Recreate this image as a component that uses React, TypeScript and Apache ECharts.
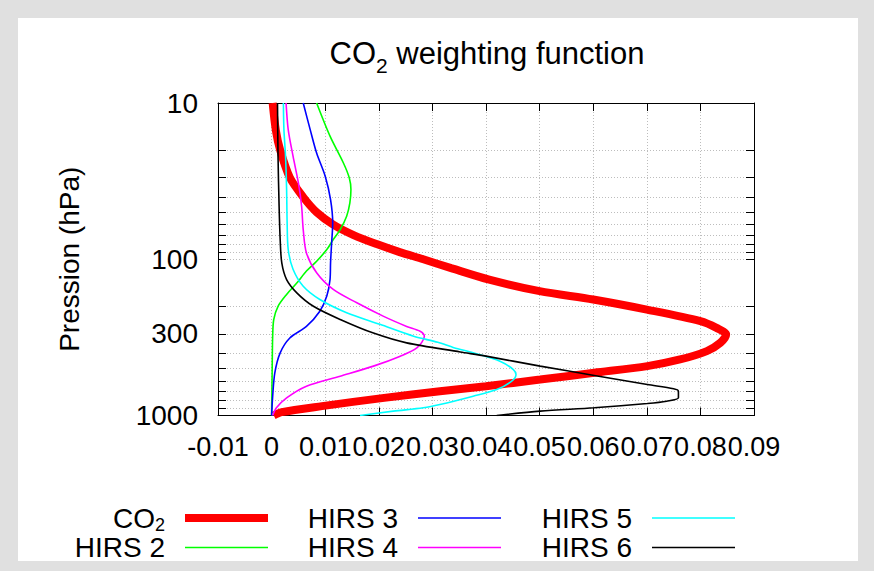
import React, { useEffect, useRef } from 'react';
import * as echarts from 'echarts';

const FONT = '"Liberation Sans", Arial, Helvetica, sans-serif';

// Axis settings
const xMin = -0.01;
const xMax = 0.09;
const xStep = 0.01;
const yLabelValues = [10, 100, 300, 1000];
const yTickValues = [10, 20, 30, 40, 50, 60, 70, 80, 90, 100, 200, 300, 400, 500, 600, 700, 800, 900, 1000];

// Series: pressure (hPa) and weighting values
const co2Pressure = [10, 15, 20, 30, 40, 50, 60, 70, 80, 90, 100, 114, 135, 160, 181, 210, 249, 275, 303, 343, 387, 438, 483, 533, 589, 649, 699, 771, 871, 952, 1000];
const co2Weight = [0.0002, 0.0008, 0.0016, 0.0034, 0.0059, 0.0084, 0.0115, 0.0153, 0.0196, 0.0239, 0.0283, 0.0335, 0.0406, 0.05, 0.06, 0.07, 0.08, 0.083, 0.0848, 0.0837, 0.0812, 0.0762, 0.0701, 0.0602, 0.0501, 0.04, 0.0314, 0.021, 0.0094, 0.0019, 0.0004];

const hirs2Pressure = [10, 16.3, 24.2, 30.2, 35.8, 43.6, 53.1, 64.6, 74.8, 86.7, 103, 119, 142, 168, 200, 243, 311, 533, 1000];
const hirs2Weight = [0.0084, 0.0109, 0.0134, 0.0145, 0.0148, 0.0146, 0.014, 0.0128, 0.0115, 0.0103, 0.0084, 0.0065, 0.0047, 0.0028, 0.0012, 0.0004, 0.0002, 0.0001, 0.0];

const hirs3Pressure = [10, 14.8, 20.9, 29.4, 41.5, 58.6, 78.7, 105, 135, 172, 215, 269, 319, 397, 533, 751, 1000];
const hirs3Weight = [0.0059, 0.0072, 0.0084, 0.01, 0.011, 0.0114, 0.0112, 0.011, 0.0109, 0.0103, 0.009, 0.0065, 0.0034, 0.0016, 0.0006, 0.0002, 0.0];

const hirs4Pressure = [10, 14.8, 21.9, 32.5, 45.8, 64.6, 91.1, 122, 156, 190, 232, 269, 289, 311, 369, 417, 483, 560, 649, 771, 893, 1000];
const hirs4Weight = [0.0027, 0.0031, 0.004, 0.005, 0.0056, 0.0059, 0.0065, 0.0084, 0.0115, 0.0159, 0.0209, 0.0252, 0.0277, 0.0285, 0.0271, 0.024, 0.019, 0.0128, 0.0065, 0.0028, 0.0009, 0.0002];

const hirs5Pressure = [10, 14.8, 21.9, 35.8, 58.6, 86.6, 116, 149, 181, 220, 261, 311, 340, 368, 397, 449, 508, 547, 603, 682, 752, 851, 893, 938, 1000];
const hirs5Weight = [0.0022, 0.0023, 0.0026, 0.0028, 0.0029, 0.0031, 0.004, 0.0059, 0.009, 0.014, 0.0202, 0.0265, 0.031, 0.034, 0.0376, 0.0426, 0.0451, 0.0456, 0.0448, 0.042, 0.0376, 0.0314, 0.0283, 0.0227, 0.0165];

const hirs6Pressure = [10, 21.9, 45.8, 74.8, 105.6, 135, 164, 200, 243, 297, 343, 392, 417, 483, 554, 634, 675, 699, 771, 810, 838, 893, 938, 1000];
const hirs6Weight = [0.0011, 0.0012, 0.0014, 0.0016, 0.0019, 0.0028, 0.0047, 0.0078, 0.0128, 0.019, 0.0252, 0.0352, 0.04, 0.0501, 0.0602, 0.0701, 0.075, 0.0759, 0.0759, 0.0737, 0.0701, 0.0602, 0.0501, 0.042];

const seriesNames = ['CO2', 'HIRS 2', 'HIRS 3', 'HIRS 4', 'HIRS 5', 'HIRS 6'];
const seriesColors = ['#ff0000', '#00ff00', '#0000ff', '#ff00ff', '#00ffff', '#000000'];
const seriesWidths = [8, 1.6, 1.6, 1.6, 1.6, 1.6];
const seriesPressures = [co2Pressure, hirs2Pressure, hirs3Pressure, hirs4Pressure, hirs5Pressure, hirs6Pressure];
const seriesWeights = [co2Weight, hirs2Weight, hirs3Weight, hirs4Weight, hirs5Weight, hirs6Weight];

const titleText = 'CO{sub|2} weighting function';
const yAxisName = 'Pression (hPa)';

export default function App() {
  const ref = useRef<HTMLDivElement>(null);

  useEffect(() => {
    if (!ref.current) return;
    const chart = echarts.init(ref.current, null, { renderer: 'svg' });

    const thinIcon = 'path://M0,0H83V1.6H0Z';
    const legendBase: any = {
      orient: 'vertical',
      align: 'right',
      top: 496,
      padding: 0,
      itemGap: -14.5,
      itemWidth: 83,
      itemHeight: 8,
      selectedMode: false,
      formatter: (n: string) => (n === 'CO2' ? 'CO{sub|2}' : n),
      textStyle: {
        fontFamily: FONT,
        fontSize: 28,
        color: '#000',
        lineHeight: 44,
        padding: [0, 15, 0, 0],
        rich: {
          sub: { fontFamily: FONT, fontSize: 18, lineHeight: 44, color: '#000', padding: [13, 0, 0, 0] },
        },
      },
    };

    const legendItem = (i: number) => ({ name: seriesNames[i], icon: i === 0 ? 'rect' : thinIcon });

    const tickStyle = { show: true, inside: true, length: 8, lineStyle: { color: '#000', width: 1 } };
    const axisLine = { show: true, onZero: false, lineStyle: { color: '#000', width: 1 } };
    const gridLine = { show: true, lineStyle: { color: '#bdbdbd', width: 1, type: [1, 2] } };

    chart.setOption({
      animation: false,
      backgroundColor: 'transparent',
      graphic: [
        {
          type: 'text',
          x: 487,
          y: 53,
          style: {
            text: titleText,
            align: 'center',
            verticalAlign: 'middle',
            fontFamily: FONT,
            fontSize: 31,
            lineHeight: 46,
            fill: '#000',
            rich: {
              sub: { fontFamily: FONT, fontSize: 21, lineHeight: 46, fill: '#000', padding: [24, 0, 0, 0] },
            },
          },
        },
      ],
      legend: [
        { ...legendBase, right: 874 - 268, data: [legendItem(0), legendItem(1)] },
        { ...legendBase, right: 874 - 501, data: [legendItem(2), legendItem(3)] },
        { ...legendBase, right: 874 - 735, data: [legendItem(4), legendItem(5)] },
      ],
      grid: { left: 218, right: 120, top: 103, bottom: 155.5, containLabel: false },
      xAxis: [
        {
          type: 'value',
          min: xMin,
          max: xMax,
          interval: xStep,
          position: 'bottom',
          axisLine,
          axisTick: tickStyle,
          splitLine: gridLine,
          axisLabel: {
            show: true,
            margin: 18,
            color: '#000',
            fontFamily: FONT,
            fontSize: 27,
            formatter: (v: number) => String(Math.round(v * 100) / 100),
          },
        },
        {
          type: 'value',
          min: xMin,
          max: xMax,
          interval: xStep,
          position: 'top',
          axisLine,
          axisTick: tickStyle,
          splitLine: { show: false },
          axisLabel: { show: false },
        },
      ],
      yAxis: [
        {
          type: 'log',
          logBase: 10,
          min: 10,
          max: 1000,
          inverse: true,
          position: 'left',
          name: yAxisName,
          nameLocation: 'middle',
          nameGap: 135,
          nameTextStyle: { fontFamily: FONT, fontSize: 28, color: '#000' },
          axisLine,
          axisTick: { ...tickStyle, customValues: yTickValues },
          splitLine: gridLine,
          axisLabel: {
            show: true,
            margin: 20,
            color: '#000',
            fontFamily: FONT,
            fontSize: 28,
            customValues: yLabelValues,
            formatter: (v: number) => String(Math.round(v)),
          },
        },
        {
          type: 'log',
          logBase: 10,
          min: 10,
          max: 1000,
          inverse: true,
          position: 'right',
          axisLine,
          axisTick: { ...tickStyle, customValues: yTickValues },
          splitLine: { show: false },
          axisLabel: { show: false },
        },
      ],
      series: seriesNames.map((name, i) => ({
        name,
        type: 'line',
        xAxisIndex: 0,
        yAxisIndex: 0,
        symbol: 'none',
        smooth: 0.3,
        clip: true,
        color: seriesColors[i],
        lineStyle: { color: seriesColors[i], width: seriesWidths[i] },
        data: seriesPressures[i].map((p, k) => [seriesWeights[i][k], p]),
      })),
    });

    return () => chart.dispose();
  }, []);

  return (
    <div style={{ position: 'absolute', left: 0, top: 0, width: 874, height: 571, background: '#e0e0e0' }}>
      <div style={{ position: 'absolute', left: 18, top: 18, width: 840, height: 543, background: '#ffffff' }} />
      <div ref={ref} style={{ position: 'absolute', left: 0, top: 0, width: 874, height: 571 }} />
    </div>
  );
}
